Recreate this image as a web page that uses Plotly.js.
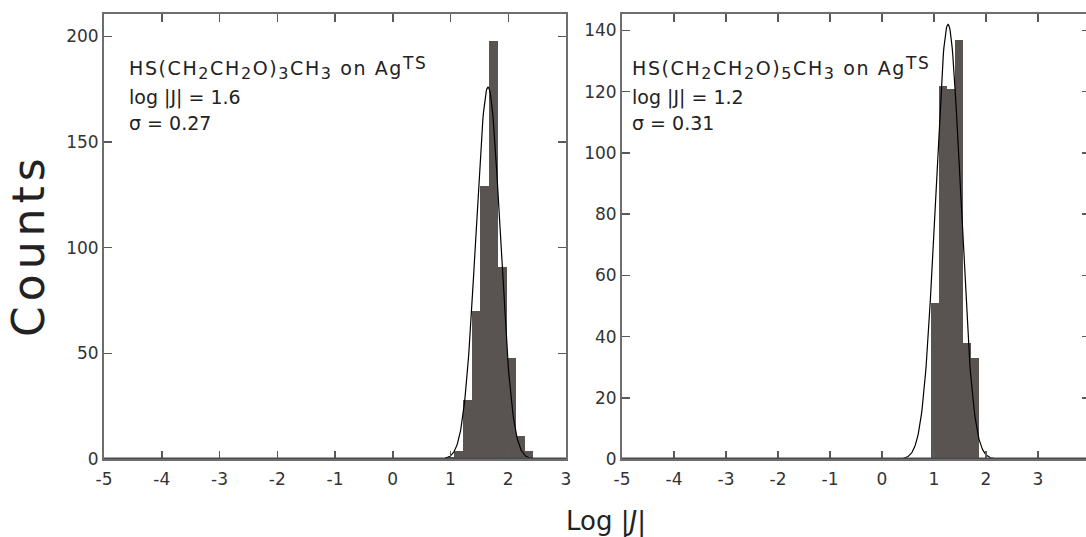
<!DOCTYPE html>
<html>
<head>
<meta charset="utf-8">
<script src="https://cdn.plot.ly/plotly-3.0.1.min.js"></script>
<style>
html,body{margin:0;padding:0;overflow:hidden;background:#fff;}
#chart{width:1094px;height:537px;}
</style>
</head>
<body>
<div id="chart"></div>
<script>
// ---------- data ----------
// Left panel: HS(CH2CH2O)3CH3 on AgTS
const leftBinStarts = [0.905, 1.058, 1.211, 1.364, 1.517, 1.670, 1.823, 1.976, 2.129, 2.282];
const leftCounts    = [1, 4, 28, 70, 129, 198, 91, 48, 11, 4];
const leftBinWidth  = 0.153;
const leftFitMean = 1.65, leftFitSigma = 0.21, leftFitPeak = 176;

// Right panel: HS(CH2CH2O)5CH3 on AgTS
const rightBinStarts = [0.936, 1.091, 1.246, 1.401, 1.556, 1.711];
const rightCounts    = [51, 122, 121, 137, 38, 33];
const rightBinWidth  = 0.155;
const rightFitMean = 1.27, rightFitSigma = 0.24, rightFitPeak = 142;

const xTickVals = [-5, -4, -3, -2, -1, 0, 1, 2, 3];
const xTickText = ['-5', '-4', '-3', '-2', '-1', '0', '1', '2', '3'];
const leftYTicks  = [0, 50, 100, 150, 200];
const rightYTicks = [0, 20, 40, 60, 80, 100, 120, 140];

const SUB = d => '<span style="font-size:16px;baseline-shift:-4px">' + d + '</span>';
const SUP = t => '<span style="font-size:17px;baseline-shift:6px">' + t + '</span>';
const WIDE = t => '<span style="letter-spacing:1.6px">' + t + '</span>';

const leftLines = [
  WIDE('HS(CH' + SUB('2') + 'CH' + SUB('2') + 'O)' + SUB('3') + 'CH' + SUB('3') + ' on Ag' + SUP('TS')),
  'log |J| = 1.6',
  '\u03c3 = 0.27'
];
const rightLines = [
  WIDE('HS(CH' + SUB('2') + 'CH' + SUB('2') + 'O)' + SUB('5') + 'CH' + SUB('3') + ' on Ag' + SUP('TS')),
  'log |J| = 1.2',
  '\u03c3 = 0.31'
];

// ---------- layout helpers ----------
const W = 1094, H = 537;
const px = v => v / W;
const py = v => 1 - v / H;
const FONT = 'DejaVu Sans, Liberation Sans, Arial, sans-serif';
const barColor = '#595451';

function fitCurve(mean, sigma, peak, xmin, xmax, n) {
  const xs = [], ys = [];
  for (let i = 0; i <= n; i++) {
    const x = xmin + (xmax - xmin) * i / n;
    xs.push(x);
    ys.push(peak * Math.exp(-0.5 * Math.pow((x - mean) / sigma, 2)));
  }
  return {xs, ys};
}
const lf = fitCurve(leftFitMean, leftFitSigma, leftFitPeak, -5, 3, 800);
const rf = fitCurve(rightFitMean, rightFitSigma, rightFitPeak, -5, 4, 900);

const traces = [
  {type: 'bar', x: leftBinStarts, y: leftCounts, width: leftBinWidth, offset: 0,
   marker: {color: barColor, line: {width: 0}}, xaxis: 'x', yaxis: 'y', hoverinfo: 'x+y'},
  {type: 'scatter', mode: 'lines', x: lf.xs, y: lf.ys, line: {color: '#000', width: 1.2},
   xaxis: 'x', yaxis: 'y', hoverinfo: 'skip'},
  {type: 'bar', x: rightBinStarts, y: rightCounts, width: rightBinWidth, offset: 0,
   marker: {color: barColor, line: {width: 0}}, xaxis: 'x2', yaxis: 'y2', hoverinfo: 'x+y'},
  {type: 'scatter', mode: 'lines', x: rf.xs, y: rf.ys, line: {color: '#000', width: 1.2},
   xaxis: 'x2', yaxis: 'y2', hoverinfo: 'skip'}
];

const axisCommon = {
  showline: true, linecolor: '#6e6e6e', linewidth: 2, mirror: 'ticks',
  ticks: 'inside', ticklen: 8, tickwidth: 1.5, tickcolor: '#5a5a5a',
  showgrid: false, zeroline: false,
  tickfont: {family: FONT, size: 17, color: '#333'}
};
const yDom = [1 - 459 / H, 1 - 14 / H];

const layout = {
  width: W, height: H,
  margin: {l: 0, r: 0, t: 0, b: 0},
  paper_bgcolor: '#ffffff', plot_bgcolor: '#ffffff',
  showlegend: false, bargap: 0,
  xaxis: Object.assign({}, axisCommon, {domain: [px(104), px(566)], range: [-5, 3],
    tickmode: 'array', tickvals: xTickVals, ticktext: xTickText, anchor: 'y', ticklabelstandoff: 4}),
  yaxis: Object.assign({}, axisCommon, {domain: yDom, range: [0, 210.6],
    tickmode: 'array', tickvals: leftYTicks, anchor: 'x'}),
  xaxis2: Object.assign({}, axisCommon, {domain: [px(622), px(1090)], range: [-5, 4],
    tickmode: 'array', tickvals: xTickVals, ticktext: xTickText, anchor: 'y2', ticklabelstandoff: 4}),
  yaxis2: Object.assign({}, axisCommon, {domain: yDom, range: [0, 145.4],
    tickmode: 'array', tickvals: rightYTicks, anchor: 'x2'}),
  shapes: [
    {type: 'line', xref: 'x domain', yref: 'y', x0: 0, x1: 1, y0: 0, y1: 0,
     line: {color: '#4a4a4a', width: 3}, layer: 'above'},
    {type: 'line', xref: 'x2 domain', yref: 'y2', x0: 0, x1: 1, y0: 0, y1: 0,
     line: {color: '#4a4a4a', width: 3}, layer: 'above'}
  ],
  annotations: []
};

const lineTops = [52, 85, 111];
leftLines.forEach((t, i) => layout.annotations.push({
  xref: 'paper', yref: 'paper', x: px(128), y: py(lineTops[i]), xanchor: 'left', yanchor: 'top',
  text: t, showarrow: false, align: 'left', borderpad: 0,
  font: {family: FONT, size: 19, color: '#222'}
}));
rightLines.forEach((t, i) => layout.annotations.push({
  xref: 'paper', yref: 'paper', x: px(631), y: py(lineTops[i]), xanchor: 'left', yanchor: 'top',
  text: t, showarrow: false, align: 'left', borderpad: 0,
  font: {family: FONT, size: 19, color: '#222'}
}));
layout.annotations.push({
  xref: 'paper', yref: 'paper', x: px(28), y: py(245), xanchor: 'center', yanchor: 'middle',
  text: '<span style="letter-spacing:5px">Counts</span>', textangle: -90, showarrow: false,
  font: {family: FONT, size: 44, color: '#222'}
});
layout.annotations.push({
  xref: 'paper', yref: 'paper', x: px(606), y: py(521), xanchor: 'center', yanchor: 'middle',
  text: 'Log |<i>J</i>|', showarrow: false, font: {family: FONT, size: 26, color: '#222'}
});

Plotly.newPlot('chart', traces, layout, {displayModeBar: false, staticPlot: true});
</script>
</body>
</html>
